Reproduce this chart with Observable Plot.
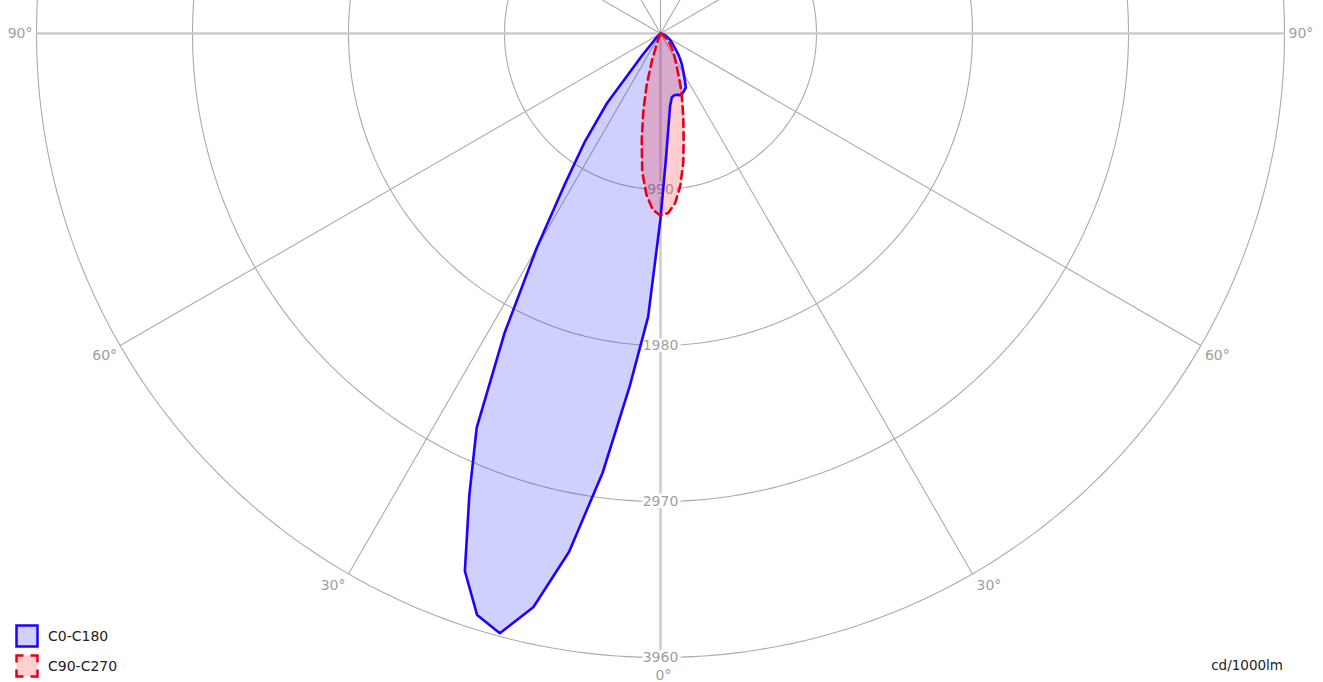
<!DOCTYPE html>
<html>
<head>
<meta charset="utf-8">
<script src="https://cdn.jsdelivr.net/npm/d3@7"></script>
<script src="https://cdn.jsdelivr.net/npm/@observablehq/plot@0.6"></script>
<style>
  body { margin: 0; background: #fff; font-family: "DejaVu Sans", sans-serif; }
  #wrap { position: relative; width: 1323px; height: 682px; overflow: hidden; }
  .leg { position: absolute; left: 15px; height: 24px; display: flex; align-items: center; font-size: 14px; color: #222; }
  .leg svg { margin-right: 8px; }
  #unit { position: absolute; right: 40px; top: 657px; font-size: 13.5px; color: #222; }
</style>
</head>
<body>
<div id="wrap"></div>
<script>
// ---- data ----
const gammas = [0,2.5,5,7.5,10,12.5,15,17.5,20,22.5,25,27.5,30,32.5,35,37.5,40,42.5,45,50,55,60,65,70,75,80,85,90];
// C0-C180 plane (blue)
const c0   = [1175,794,586,465,412,402,403,410,405,392,380,336,294,262,235,205,178,150,128,100,77,57,40,26,15,8,3,0];
const c180 = [1175,1800,2250,2810,3340,3730,3940,3870,3630,3170,2760,2145,1570,1120,835,560,180,60,20,5,0,0,0,0,0,0,0,0];
// C90-C270 plane (red)
const c90  = [1155,1140,1078,970,833,679,560,461,385,310,255,215,185,160,140,118,100,85,70,45,28,15,9,5,2,0,0,0];
const c270 = [1155,1120,1026,887,686,502,341,180,60,25,10,5,0,0,0,0,0,0,0,0,0,0,0,0,0,0,0,0];
const ringTicks = [990, 1980, 2970, 3960];
const angleTicks = [0, 30, 60, 90];
const seriesNames = ["C0-C180", "C90-C270"];
const unitLabel = "cd/1000lm";

// ---- geometry ----
const W = 1323, H = 682, cx = 660, cy = 33, Rpx = 624, Rmax = 3960;
const k = Rmax / Rpx;
const rad = d => d * Math.PI / 180;
const pt = (side, g, v) => ({ x: side * v * Math.sin(rad(g)), y: -v * Math.cos(rad(g)) });

function outline(rightVals, leftVals) {
  const pts = [];
  for (let i = gammas.length - 1; i >= 1; i--) pts.push(pt(1, gammas[i], rightVals[i]));
  for (let i = 0; i < gammas.length; i++) pts.push(pt(-1, gammas[i], leftVals[i]));
  return pts;
}
const blue = outline(c0, c180);
const red = outline(c90, c270);

const rings = [];
for (const v of ringTicks) for (let a = 0; a < 360; a += 1) rings.push({ ring: v, ...pt(1, a, v) });

const thinDiam = [30, 60, 120, 150].map(a => ({ x1: Rmax * Math.sin(rad(a)), y1: -Rmax * Math.cos(rad(a)), x2: -Rmax * Math.sin(rad(a)), y2: Rmax * Math.cos(rad(a)) }));
const upper = [{ x1: 0, y1: 0, x2: 0, y2: Rmax }];
const horiz = [{ x1: -Rmax, y1: 0, x2: Rmax, y2: 0 }];
const lower = [{ x1: 0, y1: 0, x2: 0, y2: -Rmax }];

const ringLabels = ringTicks.map(v => ({ x: 0, y: -v, t: String(v) }));
const angLabels = [];
for (const a of angleTicks) {
  if (a === 0) { angLabels.push({ a, side: 0, ...pt(1, 0, Rmax) }); continue; }
  angLabels.push({ a, side: -1, ...pt(-1, a, Rmax) });
  angLabels.push({ a, side: 1, ...pt(1, a, Rmax) });
}
const angText = d => d.a + "°";
const gray = "#a0a0a0";
const gridC = "#ababab";

const chart = Plot.plot({
  width: W, height: H, margin: 0,
  x: { domain: [-cx * k, (W - cx) * k], axis: null },
  y: { domain: [-(H - cy) * k, cy * k], axis: null },
  style: { fontFamily: "DejaVu Sans, sans-serif", fontSize: "14px", background: "white" },
  marks: [
    Plot.line(rings, { x: "x", y: "y", z: "ring", curve: "linear-closed", stroke: gridC, strokeWidth: 1.1 }),
    Plot.link(thinDiam, { x1: "x1", y1: "y1", x2: "x2", y2: "y2", stroke: gridC, strokeWidth: 1.1 }),
    Plot.link(upper, { x1: "x1", y1: "y1", x2: "x2", y2: "y2", stroke: gridC, strokeWidth: 1.1 }),
    Plot.link(horiz, { x1: "x1", y1: "y1", x2: "x2", y2: "y2", stroke: "#cccccc", strokeWidth: 2.5 }),
    Plot.link(lower, { x1: "x1", y1: "y1", x2: "x2", y2: "y2", stroke: "#cccccc", strokeWidth: 2.5 }),
    Plot.text(ringLabels, { x: "x", y: "y", text: "t", fill: gray, stroke: "white", strokeWidth: 6, paintOrder: "stroke" }),
    Plot.text(angLabels.filter(d => d.a === 90 && d.side < 0), { x: "x", y: "y", text: angText, textAnchor: "end", dx: -4, fill: gray }),
    Plot.text(angLabels.filter(d => d.a === 90 && d.side > 0), { x: "x", y: "y", text: angText, textAnchor: "start", dx: 4, fill: gray }),
    Plot.text(angLabels.filter(d => d.a === 60 && d.side < 0), { x: "x", y: "y", text: angText, textAnchor: "end", dx: -3, dy: 10, fill: gray }),
    Plot.text(angLabels.filter(d => d.a === 60 && d.side > 0), { x: "x", y: "y", text: angText, textAnchor: "start", dx: 4, dy: 10, fill: gray }),
    Plot.text(angLabels.filter(d => d.a === 30 && d.side < 0), { x: "x", y: "y", text: angText, textAnchor: "end", dx: -3, dy: 12, fill: gray }),
    Plot.text(angLabels.filter(d => d.a === 30 && d.side > 0), { x: "x", y: "y", text: angText, textAnchor: "start", dx: 4, dy: 12, fill: gray }),
    Plot.text(angLabels.filter(d => d.a === 0), { x: "x", y: "y", text: angText, dx: 3, dy: 18, fill: gray }),
    Plot.line(blue, { x: "x", y: "y", curve: "linear-closed", fill: "rgba(40,40,255,0.22)", stroke: "none" }),
    Plot.line(red, { x: "x", y: "y", curve: "linear-closed", fill: "rgba(255,30,30,0.22)", stroke: "none" }),
    Plot.line(blue, { x: "x", y: "y", curve: "linear-closed", stroke: "#2200ff", strokeWidth: 2.6, strokeLinejoin: "round" }),
    Plot.line(red, { x: "x", y: "y", curve: "linear-closed", stroke: "#e8001a", strokeWidth: 2.6, strokeDasharray: "8,5" })
  ]
});

const wrap = document.getElementById("wrap");
wrap.appendChild(chart);

function legendItem(name, top, stroke, fill, dash) {
  const div = document.createElement("div");
  div.className = "leg";
  div.style.top = top + "px";
  div.innerHTML = `<svg width="25" height="25"><rect x="1.5" y="1.5" width="21" height="21" fill="${fill}" stroke="${stroke}" stroke-width="2.5" ${dash ? 'stroke-dasharray="14 7" stroke-dashoffset="7"' : ''}/></svg><span>${name}</span>`;
  wrap.appendChild(div);
}
legendItem(seriesNames[0], 624, "#2200ff", "#d0d0fa", false);
legendItem(seriesNames[1], 654, "#e8001a", "#ffd0d0", true);
const u = document.createElement("div");
u.id = "unit"; u.textContent = unitLabel;
wrap.appendChild(u);
</script>
</body>
</html>
